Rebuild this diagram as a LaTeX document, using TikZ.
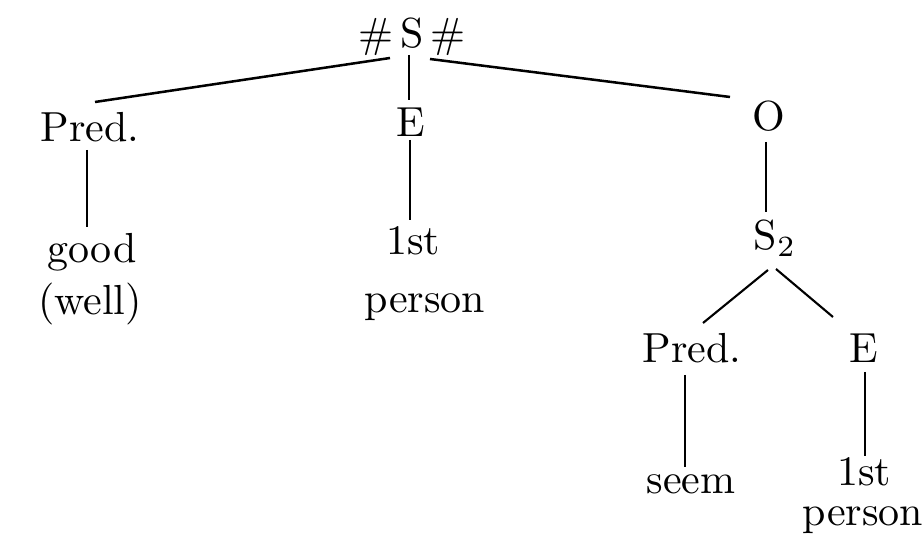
\documentclass[tikz,border=0pt]{standalone}
\usepackage{amsmath}
\usetikzlibrary{calc}

\begin{document}
\begin{tikzpicture}[x=0.238pt, y=-0.238pt,
    word/.style={anchor=base, inner sep=0pt},
    branch/.style={line width=0.5pt}]
  \useasboundingbox (0,0) rectangle (923,537);
  % upper level
  \node[word] (top) at (412,48) {\#\,S\,\#};
  \node[word] (predL) at (90,142) {Pred.};
  \node[word] (eL) at (411,137) {E};
  \node[word] (oL) at (769,131) {O};
  \node[word] (good) at (92,263) {good};
  \node[word] (well) at (90,315) {(well)};
  \node[word] (firstL) at (413,255) {1st};
  \node[word] (personL) at (425,313) {person};
  % embedded sentence
  \node[word] (s2) at (775,250) {S$_2$};
  \node[word] (predR) at (692,363) {Pred.};
  \node[word] (eR) at (864,363) {E};
  \node[word] (seem) at (691,494) {seem};
  \node[word] (firstR) at (864,486) {1st};
  \node[word] (personR) at (863,526) {person};
  % branches
  \draw[branch, line width=0.6pt] ($(top.base)+(-22,10)$) -- ($(predL.base)+(5,-40)$);
  \draw[branch] ($(top.base)+(-3,7)$) -- ($(eL.base)+(-2,-37)$);
  \draw[branch, line width=0.6pt] ($(top.base)+(18,11)$) -- ($(oL.base)+(-39,-34)$);
  \draw[branch] ($(predL.base)+(-3,8)$) -- ($(good.base)+(-5,-36)$);
  \draw[branch] ($(eL.base)+(-1,3)$) -- ($(firstL.base)+(-3,-35)$);
  \draw[branch] ($(oL.base)+(-3,11)$) -- ($(s2.base)+(-9,-38)$);
  \draw[branch] ($(s2.base)+(-7,20)$) -- ($(predR.base)+(11,-40)$);
  \draw[branch] ($(s2.base)+(1,19)$) -- ($(eR.base)+(-31,-46)$);
  \draw[branch] ($(predR.base)+(-7,12)$) -- ($(seem.base)+(-6,-27)$);
  \draw[branch] ($(eR.base)+(1,9)$) -- ($(firstR.base)+(1,-30)$);
\end{tikzpicture}
\end{document}
